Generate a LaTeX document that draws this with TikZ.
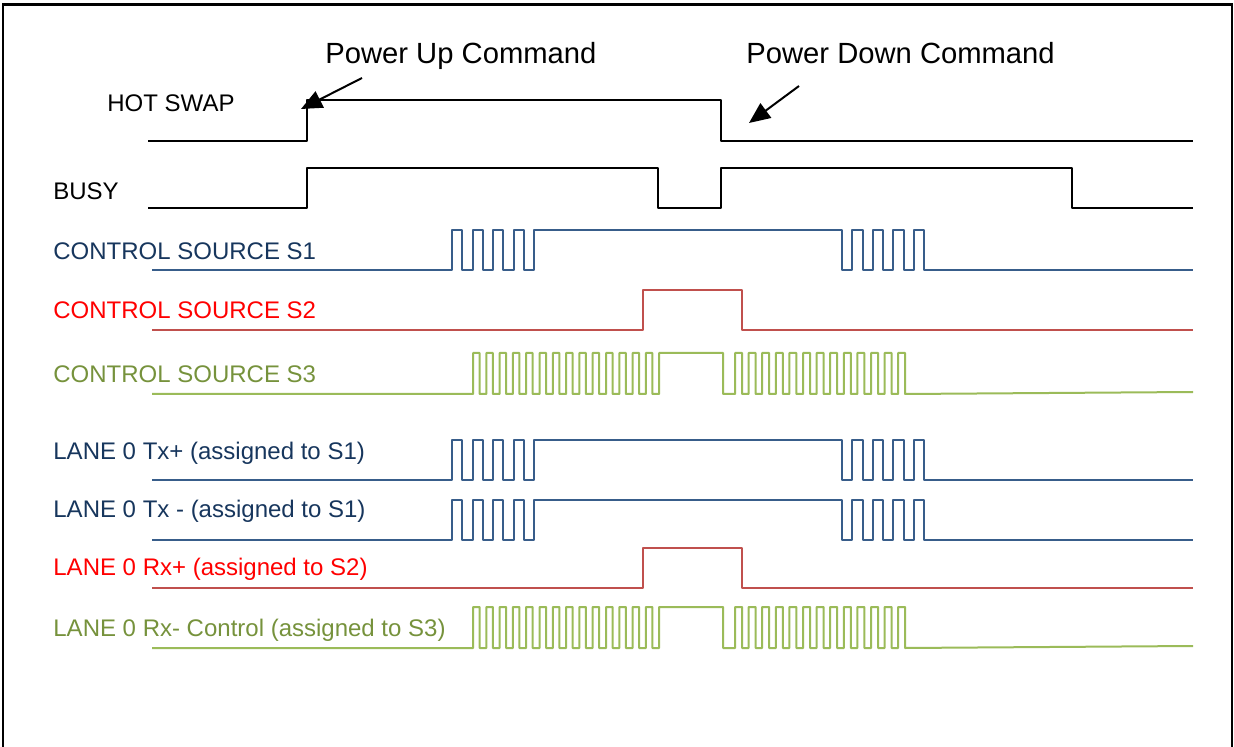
\documentclass[tikz,border=0pt]{standalone}
\usepackage{fontspec}
\setmainfont{Liberation Sans}
\usepackage{tikz}
\usetikzlibrary{arrows.meta, positioning}
\definecolor{sonetext}{RGB}{23,54,93}
\definecolor{soneline}{RGB}{56,93,138}
\definecolor{stwotext}{RGB}{255,0,0}
\definecolor{stwoline}{RGB}{192,80,77}
\definecolor{sthreetext}{RGB}{118,146,60}
\definecolor{sthreeline}{RGB}{155,187,89}
\tikzset{
  siglabel/.style={anchor=base west, inner sep=0pt,
    font=\fontsize{12}{14}\selectfont},
  cmdlabel/.style={anchor=base west, inner sep=0pt,
    font=\fontsize{14.6}{17}\selectfont},
  wave/.style={line width=1pt, line join=round},
  blackwave/.style={wave, color=black},
  bluewave/.style={wave, color=soneline},
  redwave/.style={wave, color=stwoline},
  greenwave/.style={wave, color=sthreeline},
  callout/.style={-{Triangle[length=10.5pt,width=9pt]}, line width=1pt},
  frame/.style={line width=1pt, color=black}
}
% waveforms, #1 = low level (px, y down)
\newcommand{\bluetrain}[1]{%
  \draw[bluewave] (152,#1)
    \foreach \k in {0,...,3}{ -- ({452+20.5*\k},#1) -- ({452+20.5*\k},#1-40)
      -- ({462+20.5*\k},#1-40) -- ({462+20.5*\k},#1) }
    -- (534,#1) -- (534,#1-40)
    \foreach \k in {0,...,3}{ -- ({842+20.5*\k},#1-40) -- ({842+20.5*\k},#1)
      -- ({852+20.5*\k},#1) -- ({852+20.5*\k},#1-40) }
    -- (924,#1-40) -- (924,#1) -- (1193,#1);}
\newcommand{\redpulse}[1]{%
  \draw[redwave] (152,#1) -- (643,#1) -- (643,#1-40) -- (742,#1-40)
    -- (742,#1) -- (1193,#1);}
\newcommand{\greentrain}[1]{%
  \draw[greenwave] (152,#1)
    \foreach \k in {0,...,13}{ -- ({473+13.3*\k},#1) -- ({473+13.3*\k},#1-41)
      -- ({479.5+13.3*\k},#1-41) -- ({479.5+13.3*\k},#1) }
    -- (659,#1) -- (659,#1-41) -- (723,#1-41) -- (723,#1)
    \foreach \k in {0,...,12}{ -- ({735+13.6*\k},#1) -- ({735+13.6*\k},#1-41)
      -- ({742+13.6*\k},#1-41) -- ({742+13.6*\k},#1) }
    -- (1193,#1-2);}
\begin{document}
\begin{tikzpicture}[x=0.5pt, y=-0.5pt]
  \useasboundingbox (0,0) rectangle (1234,747);
  % frame
  \draw[frame] (3,747) -- (3,5) -- (1232,5) -- (1232,747);
  \draw[frame, line width=1.5pt] (2,5) -- (1233,5);

  % commands
  \node[cmdlabel] (upcmd) at (325,63.5) {Power Up Command};
  \node[cmdlabel] (downcmd) at (746,63.5) {Power Down Command};
  \coordinate (upfrom) at (362,78);
  \coordinate (uptip) at (301,109);
  \coordinate (downfrom) at (799,86);
  \coordinate (downtip) at (749,123);
  \draw[callout] (upfrom) -- (uptip);
  \draw[callout] (downfrom) -- (downtip);

  % labels
  \node[siglabel] (hotswap) at (107,111.5) {HOT SWAP};
  \node[siglabel] (busy) at (53,200) {BUSY};
  \node[siglabel, color=sonetext] (srcone) at (53,260) {CONTROL SOURCE S1};
  \node[siglabel, color=stwotext] (srctwo) at (53,318.5) {CONTROL SOURCE S2};
  \node[siglabel, color=sthreetext] (srcthree) at (53,382.5) {CONTROL SOURCE S3};
  \node[siglabel, color=sonetext] (txp) at (53,459.5) {LANE 0 Tx+ (assigned to S1)};
  \node[siglabel, color=sonetext] (txm) at (53,517.5) {LANE 0 Tx - (assigned to S1)};
  \node[siglabel, color=stwotext] (rxp) at (53,575.5) {LANE 0 Rx+ (assigned to S2)};
  \node[siglabel, color=sthreetext] (rxm) at (53,636.5) {LANE 0 Rx- Control (assigned to S3)};

  % black signals
  \draw[blackwave] (148,141) -- (307,141) -- (307,100) -- (721,100) -- (721,141) -- (1193,141);
  \draw[blackwave] (148,208) -- (307,208) -- (307,168) -- (658,168) -- (658,208)
    -- (721,208) -- (721,168) -- (1072,168) -- (1072,208) -- (1193,208);

  % sources and lanes
  \bluetrain{270}
  \redpulse{330}
  \greentrain{394}
  \bluetrain{480}
  \bluetrain{540}
  \redpulse{588}
  \greentrain{648}
\end{tikzpicture}
\end{document}
